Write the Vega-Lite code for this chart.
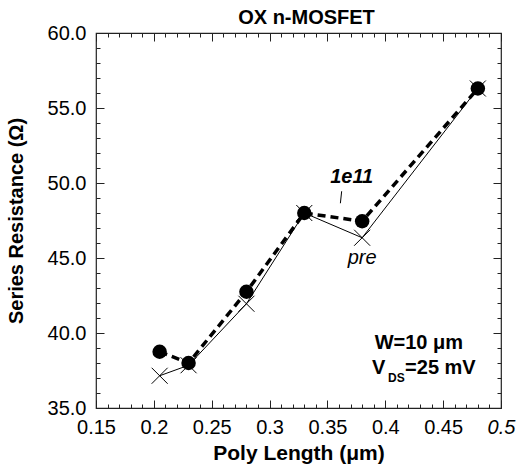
{
  "$schema": "https://vega.github.io/schema/vega-lite/v6.json",
  "width": 405,
  "height": 375,
  "autosize": {"type": "none"},
  "padding": {"left": 96, "top": 33, "right": 17, "bottom": 62},
  "title": {"text": "OX n-MOSFET", "font": "Liberation Sans", "fontSize": 20, "fontWeight": "bold", "color": "#000", "offset": -5, "dx": 8},
  "config": {
    "view": {"stroke": "#222", "strokeWidth": 1.2},
    "axis": {"grid": false, "domain": false, "labelFont": "Liberation Sans", "titleFont": "Liberation Sans", "labelColor": "#000", "titleColor": "#000", "tickColor": "#222"}
  },
  "datasets": {
    "series": [
      {"L": 0.205, "R": 37.15, "s": "pre"},
      {"L": 0.23, "R": 37.85, "s": "pre"},
      {"L": 0.28, "R": 41.95, "s": "pre"},
      {"L": 0.33, "R": 48.0, "s": "pre"},
      {"L": 0.38, "R": 46.35, "s": "pre"},
      {"L": 0.48, "R": 56.3, "s": "pre"},
      {"L": 0.205, "R": 38.75, "s": "1e11"},
      {"L": 0.23, "R": 38.0, "s": "1e11"},
      {"L": 0.28, "R": 42.75, "s": "1e11"},
      {"L": 0.33, "R": 48.0, "s": "1e11"},
      {"L": 0.38, "R": 47.45, "s": "1e11"},
      {"L": 0.48, "R": 56.3, "s": "1e11"}
    ],
    "boldItalic": [{"L": 0.371, "R": 50.4, "t": "1e11"}],
    "italic": [{"L": 0.38, "R": 45.0, "t": "pre"}],
    "boldCenter": [{"L": 0.429, "R": 39.33, "t": "W=10 μm"}],
    "boldLeft": [
      {"L": 0.3886, "R": 37.67, "t": "V"},
      {"L": 0.4171, "R": 37.67, "t": "=25 mV"}
    ],
    "sub": [{"L": 0.4024, "R": 37.0, "t": "DS"}],
    "pointer": [{"L": 0.3623, "R": 49.45, "L2": 0.3612, "R2": 48.65}]
  },
  "resolve": {"axis": {"x": "independent", "y": "independent"}},
  "layer": [
    {
      "data": {"name": "series"},
      "transform": [{"filter": "datum.s == 'pre'"}],
      "mark": {"type": "line", "color": "#000", "strokeWidth": 1},
      "encoding": {
        "x": {"field": "L", "type": "quantitative", "scale": {"domain": [0.15, 0.5], "nice": false, "zero": false},
          "axis": {"orient": "bottom", "title": "Poly Length (μm)", "titleFontSize": 21, "titleFontWeight": "bold", "titlePadding": 5,
            "values": [0.15, 0.2, 0.25, 0.3, 0.35, 0.4, 0.45, 0.5], "format": ".2~f", "labelFontSize": 20, "labelPadding": 9, "ticks": false, "labelFlush": false,
            "labelFontStyle": {"condition": {"test": "datum.value >= 0.5", "value": "italic"}, "value": "normal"}}},
        "y": {"field": "R", "type": "quantitative", "scale": {"domain": [35, 60], "nice": false, "zero": false},
          "axis": {"orient": "left", "title": "Series Resistance (Ω)", "titleFontSize": 20, "titleFontWeight": "bold", "titlePadding": 21,
            "values": [35, 40, 45, 50, 55, 60], "format": ".1f", "labelFontSize": 20, "labelPadding": 10, "ticks": false, "labelFlush": false}}
      }
    },
    {
      "data": {"name": "series"},
      "transform": [{"filter": "datum.s == 'pre'"}],
      "mark": {"type": "point", "shape": "M-1,-1L1,1M-1,1L1,-1", "size": 256, "filled": false, "stroke": "#000", "strokeWidth": 1, "opacity": 1},
      "encoding": {
        "x": {"field": "L", "type": "quantitative", "axis": {"orient": "bottom", "values": [0.15, 0.2, 0.25, 0.3, 0.35, 0.4, 0.45, 0.5], "labels": false, "tickSize": -8, "title": null}},
        "y": {"field": "R", "type": "quantitative", "axis": {"orient": "left", "values": [35, 40, 45, 50, 55, 60], "labels": false, "tickSize": -8, "title": null}}
      }
    },
    {
      "data": {"name": "series"},
      "transform": [{"filter": "datum.s == '1e11'"}],
      "mark": {"type": "line", "color": "#000", "strokeWidth": 3.5, "strokeDash": [8, 5]},
      "encoding": {
        "x": {"field": "L", "type": "quantitative", "axis": {"orient": "bottom", "values": [0.16, 0.17, 0.18, 0.19, 0.21, 0.22, 0.23, 0.24, 0.26, 0.27, 0.28, 0.29, 0.31, 0.32, 0.33, 0.34, 0.36, 0.37, 0.38, 0.39, 0.41, 0.42, 0.43, 0.44, 0.46, 0.47, 0.48, 0.49], "labels": false, "tickSize": -4, "title": null}},
        "y": {"field": "R", "type": "quantitative", "axis": {"orient": "left", "values": [36, 37, 38, 39, 41, 42, 43, 44, 46, 47, 48, 49, 51, 52, 53, 54, 56, 57, 58, 59], "labels": false, "tickSize": -4, "title": null}}
      }
    },
    {
      "data": {"name": "series"},
      "transform": [{"filter": "datum.s == '1e11'"}],
      "mark": {"type": "point", "shape": "circle", "size": 210, "filled": true, "color": "#000", "opacity": 1},
      "encoding": {
        "x": {"field": "L", "type": "quantitative", "axis": {"orient": "top", "values": [0.15, 0.2, 0.25, 0.3, 0.35, 0.4, 0.45, 0.5], "labels": false, "tickSize": -8, "title": null}},
        "y": {"field": "R", "type": "quantitative", "axis": {"orient": "right", "values": [35, 40, 45, 50, 55, 60], "labels": false, "tickSize": -8, "title": null}}
      }
    },
    {
      "data": {"name": "pointer"},
      "mark": {"type": "rule", "color": "#000", "strokeWidth": 1},
      "encoding": {
        "x": {"field": "L", "type": "quantitative", "axis": {"orient": "top", "values": [0.16, 0.17, 0.18, 0.19, 0.21, 0.22, 0.23, 0.24, 0.26, 0.27, 0.28, 0.29, 0.31, 0.32, 0.33, 0.34, 0.36, 0.37, 0.38, 0.39, 0.41, 0.42, 0.43, 0.44, 0.46, 0.47, 0.48, 0.49], "labels": false, "tickSize": -4, "title": null}},
        "y": {"field": "R", "type": "quantitative", "axis": {"orient": "right", "values": [36, 37, 38, 39, 41, 42, 43, 44, 46, 47, 48, 49, 51, 52, 53, 54, 56, 57, 58, 59], "labels": false, "tickSize": -4, "title": null}},
        "x2": {"field": "L2"},
        "y2": {"field": "R2"}
      }
    },
    {
      "data": {"name": "boldItalic"},
      "mark": {"type": "text", "font": "Liberation Sans", "color": "#000", "baseline": "middle", "align": "center", "fontSize": 20, "fontWeight": "bold", "fontStyle": "italic"},
      "encoding": {
        "x": {"field": "L", "type": "quantitative", "axis": null},
        "y": {"field": "R", "type": "quantitative", "axis": null},
        "text": {"field": "t"}
      }
    },
    {
      "data": {"name": "italic"},
      "mark": {"type": "text", "font": "Liberation Sans", "color": "#000", "baseline": "middle", "align": "center", "fontSize": 20, "fontStyle": "italic"},
      "encoding": {
        "x": {"field": "L", "type": "quantitative", "axis": null},
        "y": {"field": "R", "type": "quantitative", "axis": null},
        "text": {"field": "t"}
      }
    },
    {
      "data": {"name": "boldCenter"},
      "mark": {"type": "text", "font": "Liberation Sans", "color": "#000", "baseline": "middle", "align": "center", "fontSize": 20, "fontWeight": "bold"},
      "encoding": {
        "x": {"field": "L", "type": "quantitative", "axis": null},
        "y": {"field": "R", "type": "quantitative", "axis": null},
        "text": {"field": "t"}
      }
    },
    {
      "data": {"name": "boldLeft"},
      "mark": {"type": "text", "font": "Liberation Sans", "color": "#000", "baseline": "middle", "align": "left", "fontSize": 20, "fontWeight": "bold"},
      "encoding": {
        "x": {"field": "L", "type": "quantitative", "axis": null},
        "y": {"field": "R", "type": "quantitative", "axis": null},
        "text": {"field": "t"}
      }
    },
    {
      "data": {"name": "sub"},
      "mark": {"type": "text", "font": "Liberation Sans", "color": "#000", "baseline": "middle", "align": "left", "fontSize": 12, "fontWeight": "bold"},
      "encoding": {
        "x": {"field": "L", "type": "quantitative", "axis": null},
        "y": {"field": "R", "type": "quantitative", "axis": null},
        "text": {"field": "t"}
      }
    }
  ]
}
